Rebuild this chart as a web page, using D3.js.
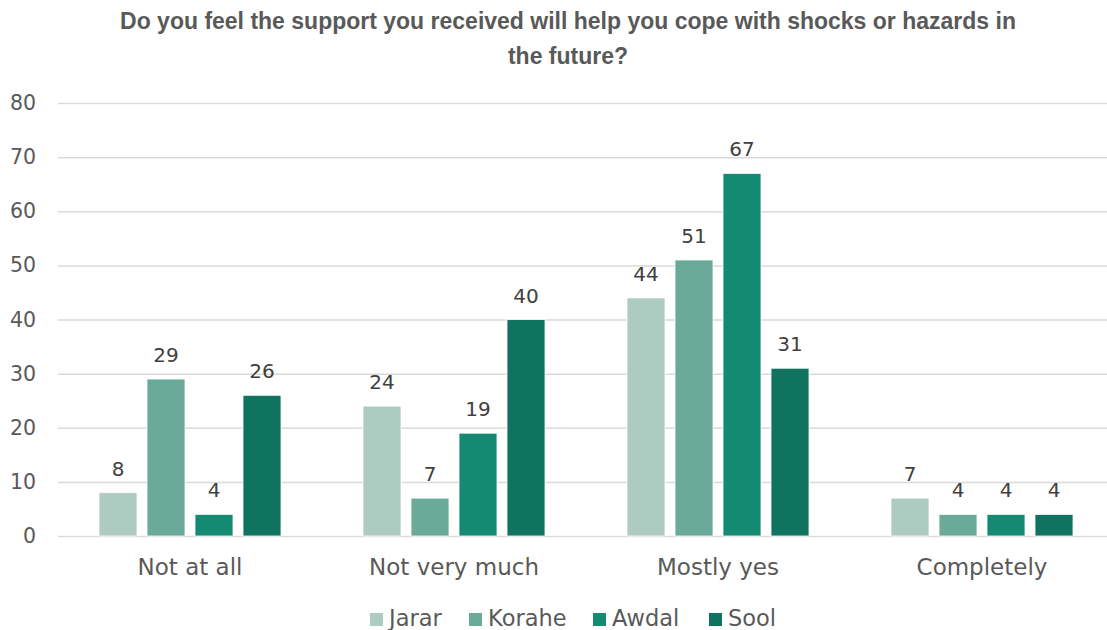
<!DOCTYPE html>
<html>
<head>
<meta charset="utf-8">
<script src="https://cdn.jsdelivr.net/npm/d3@7"></script>
<style>
  html, body { margin: 0; padding: 0; background: #fff; }
  svg { display: block; }
</style>
</head>
<body>
<svg id="chart" width="1107" height="630"></svg>
<script>
// Survey responses by region
const categories = ["Not at all", "Not very much", "Mostly yes", "Completely"];
const seriesNames = ["Jarar", "Korahe", "Awdal", "Sool"];
const jarar  = [8, 24, 44, 7];
const korahe = [29, 7, 51, 4];
const awdal  = [4, 19, 67, 4];
const sool   = [26, 40, 31, 4];
const yTicks = [0, 10, 20, 30, 40, 50, 60, 70, 80];
const titleLines = [
  "Do you feel the support you received will help you cope with shocks or hazards in",
  "the future?"
];
const colors = ["#aecbc1", "#6aaa98", "#148a73", "#10735f"];

const seriesValues = [jarar, korahe, awdal, sool];
const rows = categories.map((c, i) => ({
  category: c,
  values: seriesNames.map((s, j) => ({ series: s, value: seriesValues[j][i], idx: j }))
}));

const svg = d3.select("#chart");
const bodyFont = "'DejaVu Sans', sans-serif";
const margin = { left: 58, right: -7, top: 103, bottom: 94 };
const W = 1107, H = 630;

const x0 = d3.scaleBand().domain(categories).range([margin.left, W - margin.right]).paddingInner(0).paddingOuter(0);
const x1 = d3.scaleBand().domain(seriesNames).range([0, x0.bandwidth()]).paddingInner(0.208).paddingOuter(0.854);
const y = d3.scaleLinear().domain([0, 80]).range([H - margin.bottom, margin.top]);

// Title
const title = svg.append("text")
  .attr("text-anchor", "middle")
  .attr("font-family", "'Liberation Sans Narrow', 'Liberation Sans', sans-serif")
  .attr("font-weight", "bold")
  .attr("font-size", 23)
  .attr("fill", "#595959");
titleLines.forEach((t, i) => {
  title.append("tspan").attr("x", 568).attr("y", 29 + i * 35).text(t);
});

// Gridlines and y axis labels
const yAxis = d3.axisLeft(y).tickValues(yTicks).tickSize(-(W - margin.right - margin.left)).tickPadding(22);
const gy = svg.append("g").attr("transform", `translate(${margin.left},0)`).call(yAxis);
gy.select(".domain").remove();
gy.selectAll(".tick line").attr("stroke", "#d9d9d9").attr("stroke-width", 1.5);
gy.selectAll(".tick text")
  .attr("font-family", bodyFont)
  .attr("font-size", 20.5)
  .attr("fill", "#595959");

// Category axis
const xAxis = d3.axisBottom(x0).tickSize(0).tickPadding(23);
const gx = svg.append("g").attr("transform", `translate(0,${y(0)})`).call(xAxis);
gx.select(".domain").remove();
gx.selectAll(".tick text")
  .attr("font-family", bodyFont)
  .attr("font-size", 23)
  .attr("fill", "#595959");

// Bars
const groups = svg.append("g").selectAll("g")
  .data(rows).join("g")
  .attr("transform", d => `translate(${x0(d.category)},0)`);

groups.selectAll("rect")
  .data(d => d.values).join("rect")
  .attr("x", d => x1(d.series))
  .attr("width", x1.bandwidth())
  .attr("y", d => y(d.value))
  .attr("height", d => y(0) - y(d.value))
  .attr("fill", d => colors[d.idx])
  .attr("stroke", "#ffffff")
  .attr("stroke-width", 0.8);

// Value labels
groups.selectAll("text.val")
  .data(d => d.values).join("text")
  .attr("class", "val")
  .attr("x", d => x1(d.series) + x1.bandwidth() / 2)
  .attr("y", d => y(d.value) - 17)
  .attr("text-anchor", "middle")
  .attr("font-family", bodyFont)
  .attr("font-size", 20)
  .attr("fill", "#404040")
  .text(d => d.value);

// Legend
const legendX = [370, 469, 593, 709];
const legend = svg.append("g").selectAll("g")
  .data(seriesNames).join("g")
  .attr("transform", (d, i) => `translate(${legendX[i]},613)`);
legend.append("rect")
  .attr("width", 13).attr("height", 13)
  .attr("fill", (d, i) => colors[i]);
legend.append("text")
  .attr("x", 19).attr("y", 13)
  .attr("font-family", bodyFont)
  .attr("font-size", 22.5)
  .attr("fill", "#595959")
  .text(d => d);
</script>
</body>
</html>
